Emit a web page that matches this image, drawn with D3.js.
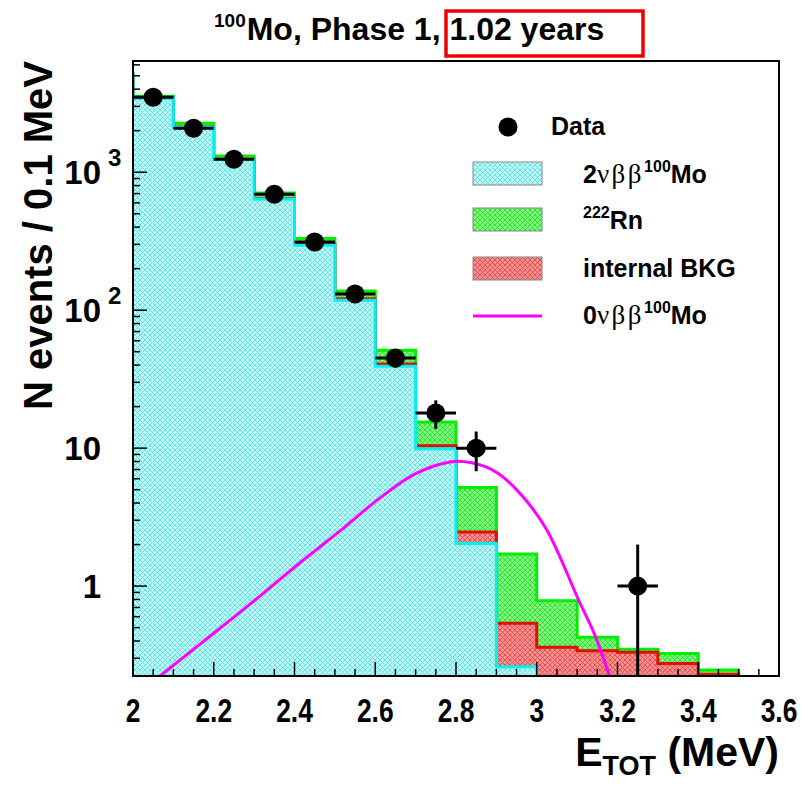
<!DOCTYPE html>
<html>
<head>
<meta charset="utf-8">
<script src="https://cdn.jsdelivr.net/npm/d3@7"></script>
<style>
  html, body { margin: 0; padding: 0; background: #fff; }
  svg { display: block; }
  text { font-family: "Liberation Sans", Arial, Helvetica, sans-serif; font-weight: bold; fill: #000; }
  .sym { font-family: "Liberation Serif", "DejaVu Serif", serif; font-weight: normal; font-size: 27px; letter-spacing: 2.5px; }
</style>
</head>
<body>
<svg id="chart" width="805" height="786"></svg>
<script>
// Bin lower edges (0.1 MeV bins)
const binLow = [1.9, 2.0, 2.1, 2.2, 2.3, 2.4, 2.5, 2.6, 2.7, 2.8, 2.9, 3.0, 3.1, 3.2, 3.3, 3.4, 3.5];
const binWidth = 0.1;

// Expected contributions per bin
const twoNu   = [5050, 3440, 2120, 1236, 640, 296, 118, 39.3, 9.9, 2.04, 0.26, 0.03, 0.01, 0, 0, 0, 0];
const intBkg  = [20, 15, 10, 7, 5, 4, 3, 1.5, 0.5, 0.43, 0.277, 0.33, 0.33, 0.331, 0.275, 0.23, 0];
const radon   = [145, 100, 135, 70, 63, 31, 17, 10.5, 5.1, 2.72, 1.17, 0.423, 0.085, 0.018, 0.05, 0.016, 0];

// Observed events (bin centres), with statistical errors
const dataE   = [2.05, 2.15, 2.25, 2.35, 2.45, 2.55, 2.65, 2.75, 2.85, 3.25];
const dataN   = [3500, 2080, 1240, 693, 312, 131, 45, 18, 10, 1];
const dataErr = [59, 46, 35, 26, 18, 11.4, 6.7, 4.2, 3.2, 1];

// 0vbb signal shape
const zeroE = [2.067, 2.166, 2.290, 2.413, 2.512, 2.611, 2.693, 2.760, 2.802, 2.876, 2.958, 3.025, 3.106, 3.149, 3.181];
const zeroV = [0.223, 0.38, 0.74, 1.47, 2.5, 4.34, 6.37, 7.65, 8.05, 7.28, 4.72, 2.55, 0.766, 0.406, 0.219];

// Axis ticks
const xTicks = [2, 2.2, 2.4, 2.6, 2.8, 3, 3.2, 3.4, 3.6];
const xTickLabels = ["2", "2.2", "2.4", "2.6", "2.8", "3", "3.2", "3.4", "3.6"];
const yTicks = [1, 10, 100, 1000];
const yTickBase = ["1", "10", "10", "10"];
const yTickExp  = ["", "", "2", "3"];

const svg = d3.select("#chart");
const plot = { left: 133, right: 779, top: 61, bottom: 676 };
const yMin = 0.223, yMax = 6400;

const x = d3.scaleLinear().domain([2, 3.6]).range([plot.left, plot.right]);
const y = d3.scaleLog().domain([yMin, yMax]).range([plot.bottom, plot.top]);
const yc = v => y(Math.max(v, yMin * 0.3));

// Hatched fills
const defs = svg.append("defs");
function hatch(id, bg, line, size) {
  const p = defs.append("pattern").attr("id", id).attr("patternUnits", "userSpaceOnUse")
    .attr("width", size).attr("height", size);
  p.append("rect").attr("width", size).attr("height", size).attr("fill", bg);
  p.append("path").attr("d", `M0,0L${size},${size}M${size},0L0,${size}`)
    .attr("stroke", line).attr("stroke-width", 1);
}
hatch("hCyan", "#c4f6f6", "#5fe6e6", 5);
hatch("hGreen", "#80f580", "#2fe52f", 5);
hatch("hRed", "#f49090", "#e85050", 5);

defs.append("clipPath").attr("id", "plotClip").append("rect")
  .attr("x", plot.left).attr("y", plot.top)
  .attr("width", plot.right - plot.left).attr("height", plot.bottom - plot.top);

const g = svg.append("g").attr("clip-path", "url(#plotClip)");

// Cumulative stacks
const cumCyan = twoNu.slice();
const cumRed = twoNu.map((v, i) => v + intBkg[i]);
const cumTot = cumRed.map((v, i) => v + radon[i]);

function stepPoints(vals) {
  const pts = [[x(binLow[0]), plot.bottom + 20]];
  vals.forEach((v, i) => {
    pts.push([x(binLow[i]), yc(v)]);
    pts.push([x(binLow[i] + binWidth), yc(v)]);
  });
  pts.push([x(binLow[binLow.length - 1] + binWidth), plot.bottom + 20]);
  return pts;
}
const line = d3.line();

[[cumTot, "url(#hGreen)", "#00ee00"],
 [cumRed, "url(#hRed)", "#dd1100"],
 [cumCyan, "url(#hCyan)", "#00f0f0"]].forEach(([vals, fill, stroke]) => {
  const pts = stepPoints(vals);
  g.append("path").attr("d", line(pts) + "Z").attr("fill", fill).attr("stroke", "none");
  g.append("path").attr("d", line(pts)).attr("fill", "none")
    .attr("stroke", stroke).attr("stroke-width", 3);
});

// 0vbb curve
g.append("path")
  .datum(zeroE.map((e, i) => [x(e), y(zeroV[i])]))
  .attr("d", d3.line().curve(d3.curveMonotoneX))
  .attr("fill", "none").attr("stroke", "#ff00ff").attr("stroke-width", 3);

// Data points
const dg = g.append("g");
dataE.forEach((e, i) => {
  const n = dataN[i], err = dataErr[i];
  dg.append("line").attr("x1", x(e - binWidth / 2)).attr("x2", x(e + binWidth / 2))
    .attr("y1", y(n)).attr("y2", y(n)).attr("stroke", "#000").attr("stroke-width", 3);
  dg.append("line").attr("x1", x(e)).attr("x2", x(e))
    .attr("y1", y(n + err)).attr("y2", yc(n - err)).attr("stroke", "#000").attr("stroke-width", 3);
  dg.append("circle").attr("cx", x(e)).attr("cy", y(n)).attr("r", 9.5).attr("fill", "#000");
});

// Frame
svg.append("rect").attr("x", plot.left).attr("y", plot.top)
  .attr("width", plot.right - plot.left).attr("height", plot.bottom - plot.top)
  .attr("fill", "none").attr("stroke", "#000").attr("stroke-width", 2);

// X ticks (inside)
const ax = svg.append("g").attr("stroke", "#000").attr("stroke-width", 1.5);
d3.range(0, 33).map(k => 2 + k * 0.05).forEach((v, k) => {
  const len = (k % 4 === 0) ? 14 : 7;
  ax.append("line").attr("x1", x(v)).attr("x2", x(v))
    .attr("y1", plot.bottom).attr("y2", plot.bottom - len);
});
// Y ticks (inside, log)
yTicks.forEach(t => {
  ax.append("line").attr("x1", plot.left).attr("x2", plot.left + 14)
    .attr("y1", y(t)).attr("y2", y(t));
});
[0.1, 1, 10, 100, 1000].forEach(d => {
  for (let m = 2; m <= 9; m++) {
    const v = d * m;
    if (v < yMin || v > yMax) continue;
    ax.append("line").attr("x1", plot.left).attr("x2", plot.left + 7)
      .attr("y1", y(v)).attr("y2", y(v));
  }
});

// X tick labels (narrow, tall glyphs)
xTicks.forEach((t, i) => {
  svg.append("text").attr("transform", `translate(${x(t)},722) scale(0.8,1)`)
    .attr("text-anchor", "middle").attr("font-size", 33).text(xTickLabels[i]);
});
// Y tick labels
yTicks.forEach((t, i) => {
  svg.append("text").attr("x", 101).attr("y", y(t) + 12).attr("text-anchor", "end")
    .attr("font-size", 33).text(yTickBase[i]);
  if (yTickExp[i]) {
    svg.append("text").attr("x", 108).attr("y", y(t) - 6)
      .attr("font-size", 24).text(yTickExp[i]);
  }
});

// Axis titles
svg.append("text").attr("transform", "translate(52,61) rotate(-90)")
  .attr("text-anchor", "end").attr("font-size", 40).text("N events / 0.1 MeV");

const xt = svg.append("text").attr("x", 779).attr("y", 766).attr("text-anchor", "end").attr("font-size", 41);
xt.append("tspan").text("E");
xt.append("tspan").attr("font-size", 27).attr("dy", 9).text("TOT");
xt.append("tspan").attr("dy", -9).text(" (MeV)");

// Title
const tt = svg.append("text").attr("x", 214).attr("y", 40).attr("font-size", 32);
tt.append("tspan").attr("font-size", 19).attr("dy", -13).text("100");
tt.append("tspan").attr("dy", 13).attr("dx", 1).text("Mo, Phase 1, 1.02 years");
svg.append("rect").attr("x", 446).attr("y", 11).attr("width", 197).attr("height", 45)
  .attr("fill", "none").attr("stroke", "#ee0000").attr("stroke-width", 3.5);

// Legend
const lg = svg.append("g");
const fs = 25;
lg.append("circle").attr("cx", 508).attr("cy", 127).attr("r", 9.5).attr("fill", "#000");
lg.append("text").attr("x", 551).attr("y", 135).attr("font-size", fs).text("Data");

const boxes = [
  { y0: 162, fill: "url(#hCyan)" },
  { y0: 208, fill: "url(#hGreen)" },
  { y0: 257, fill: "url(#hRed)" }
];
boxes.forEach(b => {
  lg.append("rect").attr("x", 473).attr("y", b.y0).attr("width", 69).attr("height", 23)
    .attr("fill", b.fill).attr("stroke", "#888").attr("stroke-width", 1);
});
const t1 = lg.append("text").attr("x", 583).attr("y", 183).attr("font-size", fs);
t1.append("tspan").text("2");
t1.append("tspan").attr("class", "sym").text("νββ");
t1.append("tspan").attr("font-size", 16).attr("dy", -11).text("100");
t1.append("tspan").attr("dy", 11).text("Mo");

const t2 = lg.append("text").attr("x", 583).attr("y", 229).attr("font-size", fs);
t2.append("tspan").attr("font-size", 16).attr("dy", -11).text("222");
t2.append("tspan").attr("dy", 11).text("Rn");

lg.append("text").attr("x", 583).attr("y", 277).attr("font-size", fs).text("internal BKG");

lg.append("line").attr("x1", 473).attr("x2", 542).attr("y1", 316).attr("y2", 316)
  .attr("stroke", "#ff00ff").attr("stroke-width", 3);
const t4 = lg.append("text").attr("x", 583).attr("y", 324).attr("font-size", fs);
t4.append("tspan").text("0");
t4.append("tspan").attr("class", "sym").text("νββ");
t4.append("tspan").attr("font-size", 16).attr("dy", -11).text("100");
t4.append("tspan").attr("dy", 11).text("Mo");
</script>
</body>
</html>
